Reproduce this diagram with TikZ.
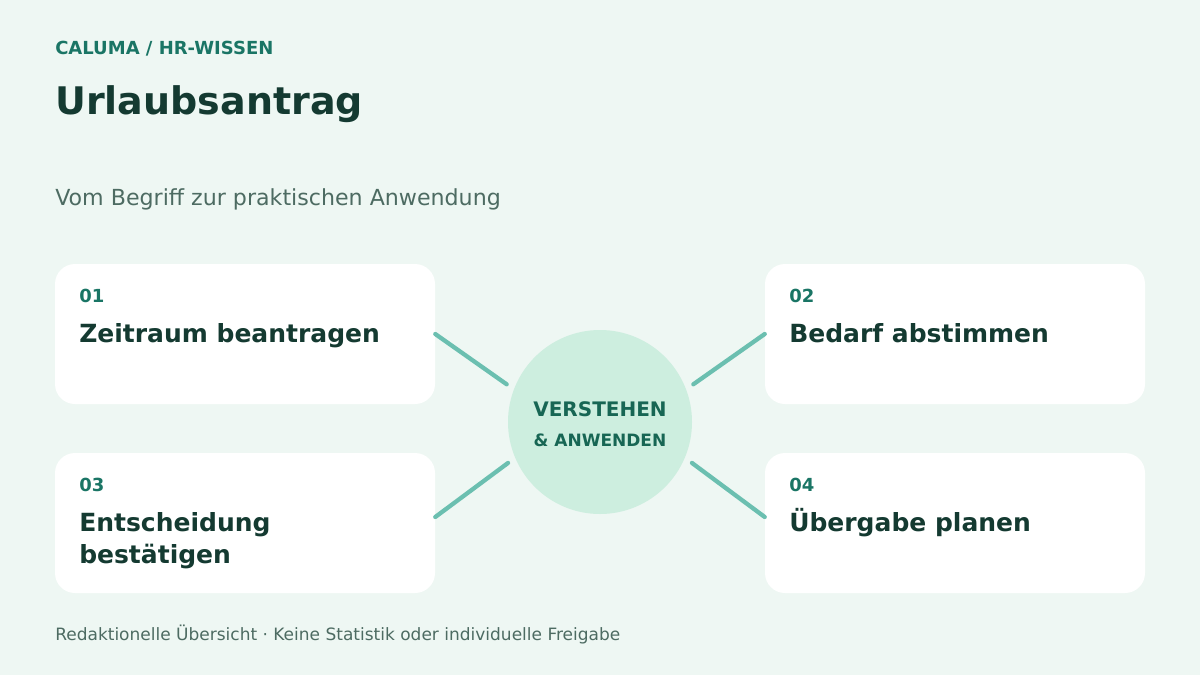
\documentclass[tikz,border=0pt]{standalone}
\usepackage{fontspec}
\setmainfont{DejaVu Sans}
\usetikzlibrary{positioning,calc}

\definecolor{bgmint}{HTML}{EEF7F3}
\definecolor{kicker}{HTML}{1A7565}
\definecolor{darktext}{HTML}{143A31}
\definecolor{softtext}{HTML}{4D6B62}
\definecolor{hubfill}{HTML}{CDEEDF}
\definecolor{hubtext}{HTML}{176654}
\definecolor{spoke}{HTML}{6BBFB0}

\begin{document}
\begin{tikzpicture}[x=0.75pt, y=-0.75pt]
	\tikzstyle{card} = [fill=white, rounded corners=15pt, minimum width=285pt, minimum height=105pt, inner sep=0pt]
	\tikzstyle{num} = [anchor=base west, inner sep=0pt, text=kicker, font=\bfseries\fontsize{13.5}{16}\selectfont]
	\tikzstyle{cardtitle} = [anchor=base west, inner sep=0pt, text=darktext, align=left, font=\bfseries\fontsize{18.75}{24}\selectfont]
	\tikzstyle{hub} = [circle, fill=hubfill, minimum size=138pt, inner sep=0pt, outer sep=6.5pt]
	\tikzstyle{link} = [draw=spoke, line width=3.2pt, line cap=round]

	% background and frame
	\fill[bgmint] (0,0) rectangle (1200,675);
	\useasboundingbox (0,0) rectangle (1200,675);

	% header
	\node[anchor=base west, inner sep=0pt, text=kicker, font=\bfseries\fontsize{13.5}{16}\selectfont] (kick) at (55,54) {CALUMA / HR-WISSEN};
	\node[anchor=base west, inner sep=0pt, text=darktext, font=\bfseries\fontsize{28.5}{34}\selectfont] (title) at (55,114) {Urlaubsantrag};
	\node[anchor=base west, inner sep=0pt, text=softtext, font=\fontsize{16.6}{20}\selectfont] (sub) at (55,205) {Vom Begriff zur praktischen Anwendung};

	% cards
	\node[card] (c1) at (245,334) {};
	\node[card] (c2) at (955,334) {};
	\node[card] (c3) at (245,523) {};
	\node[card] (c4) at (955,523) {};

	\node[num] (n1) at (79,302) {01};
	\node[cardtitle] (t1) at (79,342) {Zeitraum beantragen};
	\node[num] (n2) at (789,302) {02};
	\node[cardtitle] (t2) at (789,342) {Bedarf abstimmen};
	\node[num] (n3) at (79,491) {03};
	\node[cardtitle] (t3) at (79,563) {Entscheidung\\bestätigen};
	\node[num] (n4) at (789,491) {04};
	\node[cardtitle] (t4) at (789,531) {Übergabe planen};

	% hub
	\node[hub] (hub) at (600,422) {};
	\node[text=hubtext, anchor=base, inner sep=0pt, font=\bfseries\fontsize{15}{18}\selectfont] (v) at (600,416) {VERSTEHEN};
	\node[text=hubtext, anchor=base, inner sep=0pt, font=\bfseries\fontsize{12.75}{15}\selectfont] (a) at (600,446) {\& ANWENDEN};

	% spokes
	\path[link]
		(c1.east) edge (hub.158)
		(c2.west) edge (hub.22)
		([yshift=4.5pt]c3.east) edge (hub.204)
		([yshift=4.5pt]c4.west) edge (hub.336)
	;

	% footer
	\node[anchor=base west, inner sep=0pt, text=softtext, font=\fontsize{12.75}{15}\selectfont] (foot) at (55,640) {Redaktionelle Übersicht · Keine Statistik oder individuelle Freigabe};
\end{tikzpicture}
\end{document}
